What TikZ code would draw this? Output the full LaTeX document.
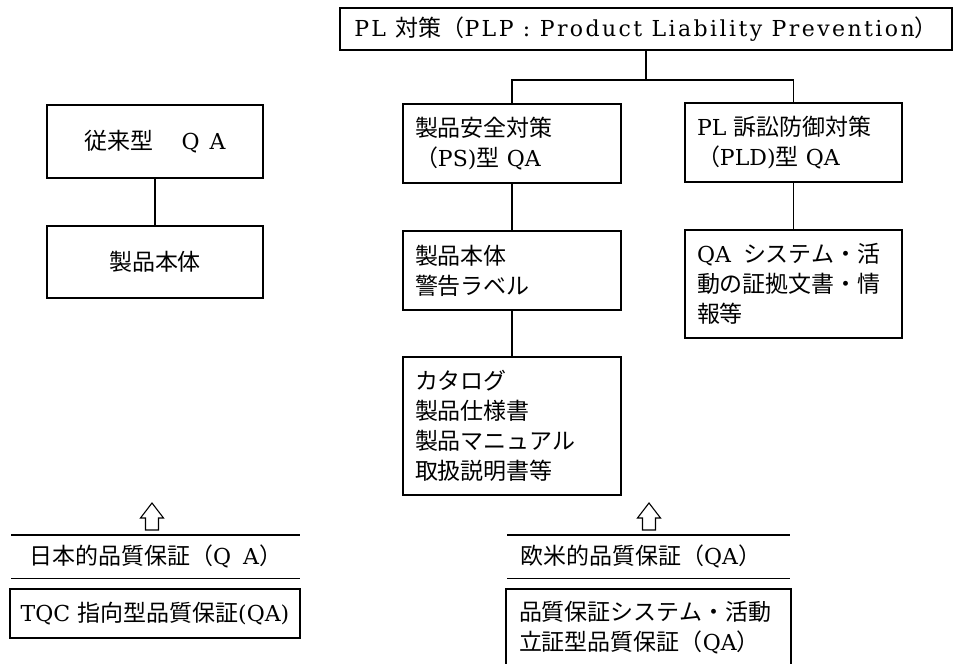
\documentclass[tikz,border=0pt]{standalone}
\usepackage{fontspec}
\setmainfont{DejaVu Serif}
\newfontfamily\widefont[LetterSpace=11]{DejaVu Serif}
\newfontfamily\jpfont[Scale=1.045]{Noto Sans CJK JP}
\newcommand\J[1]{{\jpfont #1}}
\begin{document}
\begin{tikzpicture}[x=1pt,y=-1pt,
  font=\fontsize{22}{30}\selectfont,
  box/.style={draw,line width=1.3pt,anchor=north west,inner sep=0pt,outer sep=0pt},
  lbox/.style={box,align=left,inner xsep=12pt},
  link/.style={line width=1.4pt},
  rule/.style={line width=1.2pt},
  hollow/.style={draw,line width=1.1pt,fill=white,line join=miter}]
\useasboundingbox (0,0) rectangle (954,664);

% top
\node[box,minimum width=612pt,minimum height=42pt] (top) at (340,8)
  {\widefont PL \J{対策（}PLP : Product Liability Prevention\J{）}};

% PL branch
\node[lbox,text width=194pt,minimum height=79pt] (ps) at (403,104)
  {\J{製品安全対策}\\\J{（}PS)\J{型} QA};
\node[lbox,text width=193pt,minimum height=79pt] (pld) at (685,103)
  {PL \J{訴訟防御対策}\\\J{（}PLD)\J{型} QA};
\node[lbox,text width=194pt,minimum height=79pt] (prod) at (403,231)
  {\J{製品本体}\\\J{警告ラベル}};
\node[lbox,text width=193pt,minimum height=108pt] (qa) at (685,230)
  {\makebox[46pt][l]{QA}\J{システム・活}\\\J{動の証拠文書・情}\\\J{報等}};
\node[lbox,text width=194pt,minimum height=138pt] (cat) at (403,357)
  {\J{カタログ}\\\J{製品仕様書}\\\J{製品マニュアル}\\\J{取扱説明書等}};

\draw[link] (top.south) -- ++(0,30) coordinate (hub);
\draw[link] (ps.north) |- (hub) -| (pld.north);
\draw[link] (ps.south) -- (prod.north);
\draw[link] (prod.south) -- (cat.north);
\draw[link] (pld.south) -- (qa.north);

% conventional QA
\node[box,minimum width=216pt,minimum height=73pt] (old) at (47,105)
  {\J{従来型}\hspace{28pt}Q\hspace{10pt}A};
\node[box,minimum width=216pt,minimum height=72pt] (body) at (47,226)
  {\J{製品本体}};
\draw[link] (old.south) -- (body.north);

% bottom left
\coordinate (tipL) at (152,503);
\draw[hollow] (tipL) -- ++(11.5,15) -- ++(-5,0) -- ++(0,12) -- ++(-13,0) -- ++(0,-12) -- ++(-5,0) -- cycle;
\node[anchor=north west,minimum width=289pt,minimum height=43pt,inner sep=0pt] (jpqa) at (11,535)
  {\J{日本的品質保証（}Q\hspace{12pt}A\J{）}};
\draw[rule] (jpqa.north west) -- (jpqa.north east);
\draw[rule] (jpqa.south west) -- (jpqa.south east);
\node[box,minimum width=290pt,minimum height=49pt] (tqc) at (10,589)
  {TQC \J{指向型品質保証}(QA)};

% bottom right
\coordinate (tipR) at (649,503);
\draw[hollow] (tipR) -- ++(11.5,15) -- ++(-5,0) -- ++(0,12) -- ++(-13,0) -- ++(0,-12) -- ++(-5,0) -- cycle;
\node[anchor=north west,align=left,text width=257pt,inner xsep=13pt,inner ysep=0pt,minimum height=43pt] (west) at (507,535)
  {\J{欧米的品質保証（}QA\J{）}};
\draw[rule] (west.north west) -- (west.north east);
\draw[rule] (west.south west) -- (west.south east);
\node[lbox,text width=259pt,inner xsep=13pt,minimum height=78pt] (prove) at (506,589)
  {\J{品質保証システム・活動}\\\J{立証型品質保証（}QA\J{）}};
\end{tikzpicture}
\end{document}
